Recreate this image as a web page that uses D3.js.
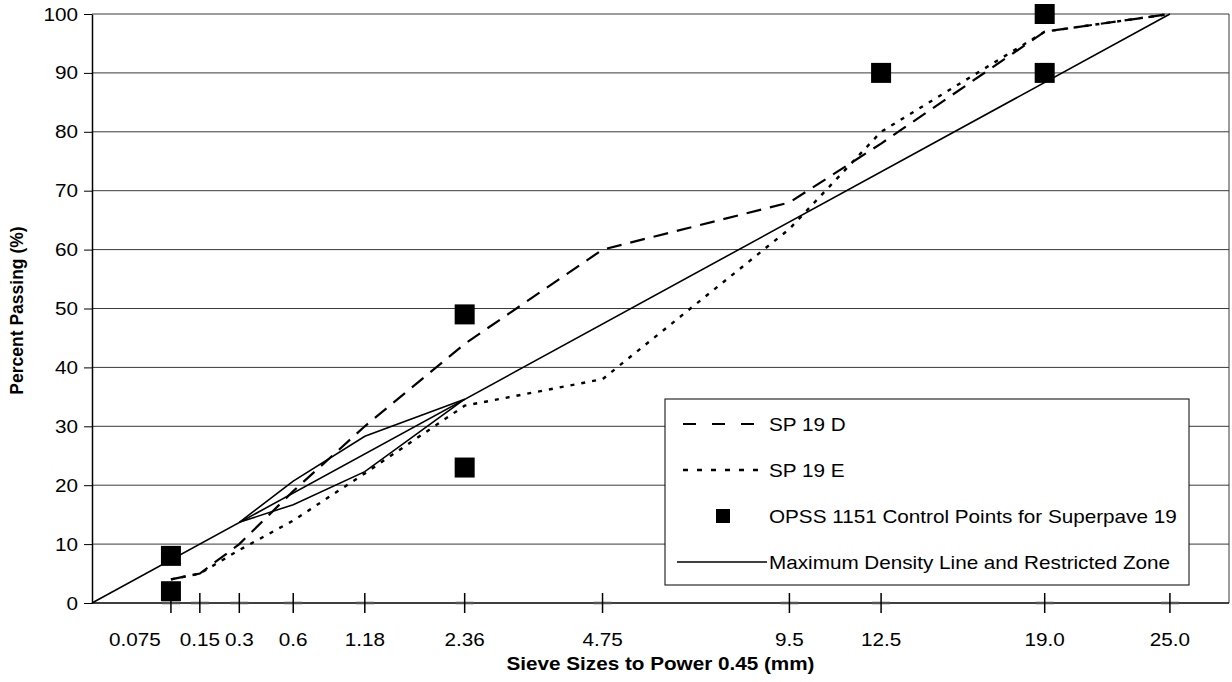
<!DOCTYPE html>
<html>
<head>
<meta charset="utf-8">
<script src="https://cdn.jsdelivr.net/npm/d3@7"></script>
<style>
  body { margin: 0; background: #fff; }
  text { font-family: "Liberation Sans", Arial, sans-serif; fill: #000; }
</style>
</head>
<body>
<svg id="chart" width="1232" height="682"></svg>
<script>
// Sieve sizes (mm) and their axis labels
const sieveSizes  = [0.075, 0.15, 0.3, 0.6, 1.18, 2.36, 4.75, 9.5, 12.5, 19.0, 25.0];
const sieveLabels = ["0.075", "0.15", "0.3", "0.6", "1.18", "2.36", "4.75", "9.5", "12.5", "19.0", "25.0"];

// Gradations, percent passing at each sieve
const sp19D = [4, 5, 10, 19, 30, 44, 60, 68, 78, 97, 100];
const sp19E = [4, 5, 9, 14, 22, 33.5, 38, 63.5, 80, 97, 100];

// OPSS 1151 control points for Superpave 19
const controlSieves  = [0.075, 0.075, 2.36, 2.36, 12.5, 19.0, 19.0];
const controlPassing = [2, 8, 23, 49, 90, 90, 100];

// Maximum density line and restricted zone
const maxDensitySieves  = [0, 25.0];
const maxDensityPassing = [0, 100];
const zoneSieves        = [0.3, 0.6, 1.18, 2.36];
const zoneUpperPassing  = [13.7, 20.7, 28.3, 34.6];
const zoneLowerPassing  = [13.7, 16.7, 22.3, 34.6];

const yTicks = [0, 10, 20, 30, 40, 50, 60, 70, 80, 90, 100];
const legendLabels = ["SP 19 D", "SP 19 E", "OPSS 1151 Control Points for Superpave 19", "Maximum Density Line and Restricted Zone"];

const svg = d3.select("#chart");
const plotLeft = 92, plotRight = 1229, plotTop = 14, plotBottom = 603;
const fontSize = 18;
const stretch = 1.15;   // horizontal text is drawn slightly widened
const pow45 = s => Math.pow(s, 0.45);

const x = d3.scaleLinear().domain([0, 4.49]).range([plotLeft, plotRight]);
const y = d3.scaleLinear().domain([0, 100]).range([plotBottom, plotTop]);

// widened horizontal text placed at (tx, ty)
function label(parent, tx, ty, str, anchor, bold) {
  return parent.append("text")
    .attr("transform", `translate(${tx},${ty}) scale(${stretch},1)`)
    .attr("text-anchor", anchor).attr("font-size", fontSize)
    .attr("font-weight", bold ? "bold" : "normal").text(str);
}

// horizontal gridlines
svg.append("g").selectAll("line").data(yTicks.filter(d => d > 0)).join("line")
  .attr("x1", plotLeft).attr("x2", plotRight)
  .attr("y1", d => y(d)).attr("y2", d => y(d))
  .attr("stroke", "#3a3a3a").attr("stroke-width", 1);

// right border of the plot area
svg.append("line").attr("x1", plotRight).attr("x2", plotRight).attr("y1", plotTop).attr("y2", plotBottom)
  .attr("stroke", "#3a3a3a").attr("stroke-width", 1);

// y axis
const yAxis = svg.append("g").attr("transform", `translate(${plotLeft},0)`)
  .call(d3.axisLeft(y).tickValues(yTicks).tickSize(8).tickSizeOuter(0).tickFormat(""));
yAxis.select(".domain").attr("stroke", "#000").attr("stroke-width", 1.5);
yAxis.selectAll(".tick line").attr("stroke", "#000");
yTicks.forEach(t => label(svg, plotLeft - 14, y(t) + 6.5, String(t), "end", false));

// x axis baseline
svg.append("line").attr("x1", plotLeft).attr("x2", plotRight).attr("y1", plotBottom).attr("y2", plotBottom)
  .attr("stroke", "#000").attr("stroke-width", 1.5);

// sieve ticks crossing the baseline
const xt = svg.append("g").selectAll("g").data(sieveSizes).join("g")
  .attr("transform", d => `translate(${x(pow45(d))},${plotBottom})`);
xt.append("line").attr("x1", -9).attr("x2", 9).attr("y1", 0).attr("y2", 0)
  .attr("stroke", "#555").attr("stroke-width", 2.5);
xt.append("line").attr("x1", 0).attr("x2", 0).attr("y1", -10).attr("y2", 10)
  .attr("stroke", "#000").attr("stroke-width", 1.5);
// the first label is nudged left to keep it clear of its neighbour
xt.each(function (d, i) {
  label(d3.select(this), i === 0 ? -36 : 0, 43, sieveLabels[i], "middle", false);
});

// axis titles
label(svg, (plotLeft + plotRight) / 2, 670, "Sieve Sizes to Power 0.45 (mm)", "middle", true);
svg.append("text").attr("transform", `translate(23,${(plotTop + plotBottom) / 2 + 2}) rotate(-90)`)
  .attr("text-anchor", "middle").attr("font-size", 17.5).attr("font-weight", "bold").text("Percent Passing (%)");

const line = d3.line().x(d => x(pow45(d[0]))).y(d => y(d[1]));

// maximum density line and restricted zone
[[maxDensitySieves, maxDensityPassing], [zoneSieves, zoneUpperPassing], [zoneSieves, zoneLowerPassing]]
  .forEach(([s, v]) => {
    svg.append("path").datum(s.map((d, i) => [d, v[i]])).attr("d", line)
      .attr("fill", "none").attr("stroke", "#000").attr("stroke-width", 1.6);
  });

// gradation curves
const dStyle = { dash: "15,9", width: 2.2 };
const eStyle = { dash: "4,7", width: 2.4 };
svg.append("path").datum(sieveSizes.map((d, i) => [d, sp19D[i]])).attr("d", line)
  .attr("fill", "none").attr("stroke", "#000").attr("stroke-width", dStyle.width).attr("stroke-dasharray", dStyle.dash);
svg.append("path").datum(sieveSizes.map((d, i) => [d, sp19E[i]])).attr("d", line)
  .attr("fill", "none").attr("stroke", "#000").attr("stroke-width", eStyle.width).attr("stroke-dasharray", eStyle.dash);

// control points
const markerSize = 20;
svg.append("g").selectAll("rect").data(controlSieves.map((d, i) => [d, controlPassing[i]])).join("rect")
  .attr("x", d => x(pow45(d[0])) - markerSize / 2).attr("y", d => y(d[1]) - markerSize / 2)
  .attr("width", markerSize).attr("height", markerSize).attr("fill", "#000");

// legend
const lg = svg.append("g").attr("transform", "translate(665,399)");
lg.append("rect").attr("width", 524).attr("height", 186).attr("fill", "#fff").attr("stroke", "#000").attr("stroke-width", 1);
const rowY = [25, 71, 117, 163];
legendLabels.forEach((str, i) => {
  const g = lg.append("g").attr("transform", `translate(0,${rowY[i]})`);
  if (i === 0) g.append("line").attr("x1", 18).attr("x2", 96).attr("stroke", "#000").attr("stroke-width", dStyle.width).attr("stroke-dasharray", "13,16");
  if (i === 1) g.append("line").attr("x1", 18).attr("x2", 96).attr("stroke", "#000").attr("stroke-width", eStyle.width).attr("stroke-dasharray", "5,9");
  if (i === 2) g.append("rect").attr("x", 51).attr("y", -7).attr("width", 14).attr("height", 14).attr("fill", "#000");
  if (i === 3) g.append("line").attr("x1", 12).attr("x2", 102).attr("stroke", "#000").attr("stroke-width", 1.6);
  label(g, 104, 6.5, str, "start", false);
});
</script>
</body>
</html>
